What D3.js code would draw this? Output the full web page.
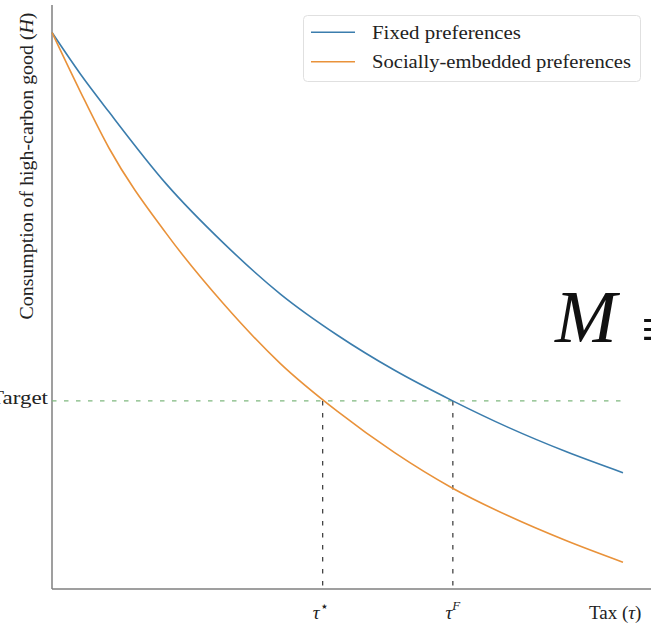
<!DOCTYPE html>
<html>
<head>
<meta charset="utf-8">
<script src="https://cdn.jsdelivr.net/npm/d3@7"></script>
<style>
  html, body { margin: 0; padding: 0; background: #fff; }
  svg { display: block; }
  text { font-family: "Liberation Serif", "DejaVu Serif", serif; fill: #222; }
</style>
</head>
<body>
<svg id="chart" width="651" height="626"></svg>
<script>
// ---- data ----
const tau = [0, 0.5, 1, 2, 3, 4, 5, 6, 7, 8, 9, 10];
const fixedPrefs = [1.000, 0.925, 0.857, 0.728, 0.622, 0.530, 0.456, 0.393, 0.339, 0.290, 0.247, 0.209];
const sociallyEmbedded = [1.000, 0.893, 0.792, 0.639, 0.513, 0.405, 0.319, 0.245, 0.182, 0.131, 0.087, 0.048];
const seriesNames = ["Fixed preferences", "Socially-embedded preferences"];
const targetValue = 0.338;
const tauStar = 4.74;
const tauF = 7.02;

const svg = d3.select("#chart");
const W = 651, H = 626;

const x = d3.scaleLinear().domain([0, 10]).range([52, 623]);
const y = d3.scaleLinear().domain([0, 1]).range([589, 32.5]);

const axisColor = "#7f7f7f";
const colors = ["#3b7dad", "#e9923a"];

// spines
svg.append("line").attr("x1", 52).attr("x2", 52).attr("y1", 5).attr("y2", 589)
  .attr("stroke", axisColor).attr("stroke-width", 1.5);
svg.append("line").attr("x1", 52).attr("x2", W).attr("y1", 589).attr("y2", 589)
  .attr("stroke", axisColor).attr("stroke-width", 1.5);

// target line
svg.append("line")
  .attr("x1", x(0)).attr("x2", x(10))
  .attr("y1", y(targetValue)).attr("y2", y(targetValue))
  .attr("stroke", "#7fb87f").attr("stroke-width", 1.3)
  .attr("stroke-dasharray", "4.5,7.5");

// vertical dashed lines
[tauStar, tauF].forEach(t => {
  svg.append("line")
    .attr("x1", x(t)).attr("x2", x(t))
    .attr("y1", y(targetValue)).attr("y2", 589)
    .attr("stroke", "#444").attr("stroke-width", 1.3)
    .attr("stroke-dasharray", "4.5,7.5");
});

// curves
const line = d3.line()
  .x((d, i) => x(tau[i]))
  .y(d => y(d))
  .curve(d3.curveMonotoneX);

[fixedPrefs, sociallyEmbedded].forEach((s, k) => {
  svg.append("path").datum(s)
    .attr("d", line)
    .attr("fill", "none")
    .attr("stroke", colors[k])
    .attr("stroke-width", 1.6);
});

// big M symbol
svg.append("text").attr("x", 555).attr("y", 342)
  .attr("font-size", 74).attr("font-style", "italic")
  .style("fill", "#111")
  .text("M");
svg.append("text").attr("x", 641).attr("y", 350)
  .attr("font-size", 62).style("fill", "#111")
  .text("≡");

// legend
const lg = svg.append("g");
lg.append("rect").attr("x", 303.5).attr("y", 15.5).attr("width", 337).attr("height", 66)
  .attr("rx", 4).attr("fill", "#fff").attr("stroke", "#e0e0e0").attr("stroke-width", 1);
const legendY = [32.3, 61.7];
seriesNames.forEach((n, k) => {
  lg.append("line").attr("x1", 311).attr("x2", 355)
    .attr("y1", legendY[k]).attr("y2", legendY[k])
    .attr("stroke", colors[k]).attr("stroke-width", 1.6);
  lg.append("text").attr("x", 372).attr("y", legendY[k] + 6.5)
    .attr("font-size", 19)
    .attr("textLength", k === 0 ? 149 : 259).attr("lengthAdjust", "spacingAndGlyphs")
    .text(n);
});

// y label
const yl = svg.append("text")
  .attr("transform", "translate(33,166) rotate(-90)")
  .attr("text-anchor", "middle")
  .attr("font-size", 19)
  .attr("textLength", 307).attr("lengthAdjust", "spacingAndGlyphs");
yl.append("tspan").text("Consumption of high-carbon good (");
yl.append("tspan").attr("font-style", "italic").text("H");
yl.append("tspan").text(")");

// Target label
svg.append("text").attr("x", 48).attr("y", 404).attr("text-anchor", "end")
  .attr("font-size", 19).attr("textLength", 58).attr("lengthAdjust", "spacingAndGlyphs")
  .text("Target");

// tick labels
const t1 = svg.append("text").attr("x", x(tauStar) - 2).attr("y", 619)
  .attr("text-anchor", "middle").attr("font-size", 19);
t1.append("tspan").attr("font-style", "italic").text("τ");
t1.append("tspan").attr("font-size", 14).attr("dy", -8).text("⋆");

const t2 = svg.append("text").attr("x", x(tauF)).attr("y", 619)
  .attr("text-anchor", "middle").attr("font-size", 19);
t2.append("tspan").attr("font-style", "italic").text("τ");
t2.append("tspan").attr("font-size", 13).attr("font-style", "italic").attr("dy", -9).text("F");

// x label
const xl = svg.append("text").attr("x", 589).attr("y", 619).attr("font-size", 19);
xl.append("tspan").text("Tax (");
xl.append("tspan").attr("font-style", "italic").text("τ");
xl.append("tspan").text(")");
</script>
</body>
</html>
